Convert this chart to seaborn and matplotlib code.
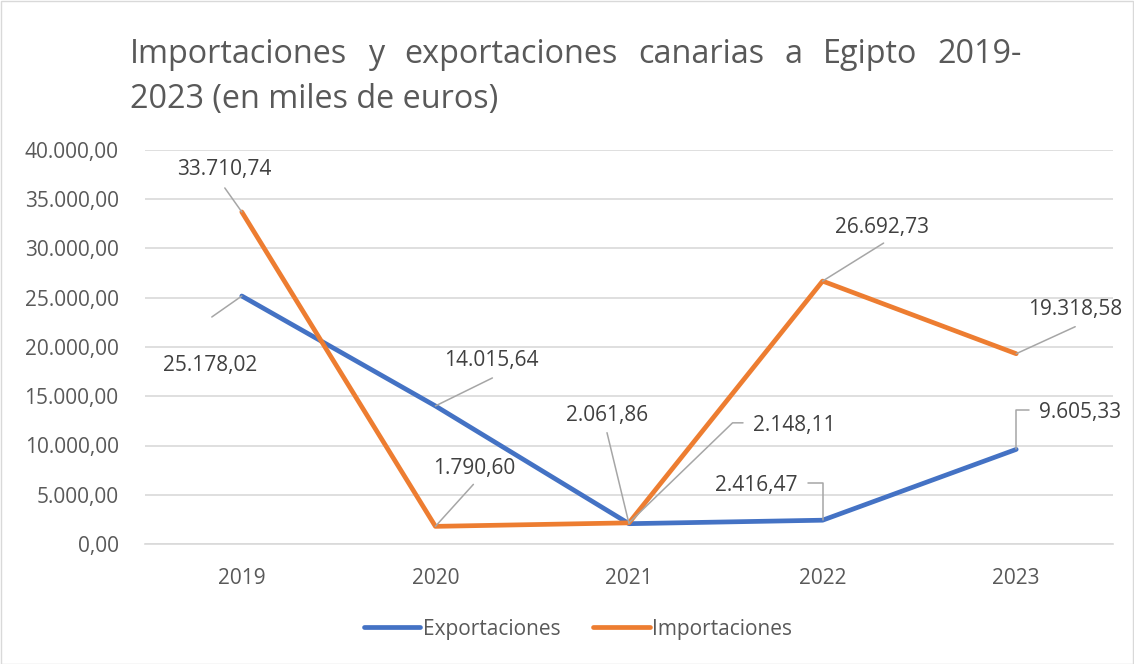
import numpy as np
import pandas as pd
import matplotlib
matplotlib.use("Agg")
import matplotlib.pyplot as plt
import seaborn as sns
from matplotlib.ticker import FuncFormatter
from matplotlib.lines import Line2D
from matplotlib.patches import Rectangle

# ---------------- data ----------------
years = ["2019", "2020", "2021", "2022", "2023"]
exportaciones = [25178.02, 14015.64, 2061.86, 2416.47, 9605.33]
importaciones = [33710.74, 1790.60, 2148.11, 26692.73, 19318.58]
series_names = ["Exportaciones", "Importaciones"]
y_ticks = [0, 5000, 10000, 15000, 20000, 25000, 30000, 35000, 40000]
title_line1 = ["Importaciones", "y", "exportaciones", "canarias", "a", "Egipto", "2019-"]
title_line2 = "2023 (en miles de euros)"

colors = {"Exportaciones": "#4472C4", "Importaciones": "#ED7D31"}


def fmt_es(v, pos=None):
    s = f"{v:,.2f}"
    return s.replace(",", "X").replace(".", ",").replace("X", ".")


df = pd.DataFrame({
    "x": list(range(len(years))) * 2,
    "value": exportaciones + importaciones,
    "serie": [series_names[0]] * len(years) + [series_names[1]] * len(years),
})

sns.set_theme(style="white")
FONT = "Open Sans"
plt.rcParams["font.family"] = [FONT, "DejaVu Sans"]

W, H = 1134, 664
fig = plt.figure(figsize=(W / 100, H / 100), dpi=100)
fig.patch.set_facecolor("white")

ax = fig.add_axes([145 / W, 1 - 544 / H, (1113 - 145) / W, (544 - 150) / H])
sns.lineplot(data=df, x="x", y="value", hue="serie", palette=colors,
             linewidth=3.4, ax=ax, legend=False, sort=False,
             solid_joinstyle="round", solid_capstyle="round")

ax.set_xlim(-0.5, len(years) - 0.5)
ax.set_ylim(0, 40000)
ax.set_yticks(y_ticks)
ax.yaxis.set_major_formatter(FuncFormatter(fmt_es))
ax.set_xticks(range(len(years)))
ax.set_xticklabels(years)
ax.set_xlabel("")
ax.set_ylabel("")
ax.yaxis.grid(True, color="#d9d9d9", linewidth=1.2)
ax.set_axisbelow(True)
for s in ["top", "right", "left"]:
    ax.spines[s].set_visible(False)
ax.spines["bottom"].set_color("#d9d9d9")
ax.spines["bottom"].set_linewidth(1.2)
ax.tick_params(axis="both", length=0, labelsize=15, labelcolor="#595959")
ax.tick_params(axis="y", pad=19)
ax.tick_params(axis="x", pad=17)

# ---------------- data labels with leader lines ----------------
# (series, index, text offset px (dx, dy), leader start offset px, connection)
labels = [
    ("Exportaciones", 0, (-32, -70), (-30, -21), None),
    ("Importaciones", 0, (-18, 42), (-17, 24), None),
    ("Exportaciones", 1, (56, 45), (57, 28), None),
    ("Importaciones", 1, (39, 58), (38, 42), None),
    ("Exportaciones", 2, (-22, 108), (-22, 91), None),
    ("Importaciones", 2, (165, 97), (114, 100), "angle,angleA=0,angleB=44,rad=0"),
    ("Exportaciones", 3, (-66, 35), (-15, 37), "angle,angleA=0,angleB=90,rad=0"),
    ("Importaciones", 3, (59, 54), (61, 38), None),
    ("Importaciones", 4, (59, 44), (59, 27), None),
    ("Exportaciones", 4, (64, 37), (13, 39), "angle,angleA=0,angleB=90,rad=0"),
]
vals = {"Exportaciones": exportaciones, "Importaciones": importaciones}
for serie, i, toff, loff, conn in labels:
    v = vals[serie][i]
    ax.annotate(fmt_es(v), xy=(i, v), xytext=toff, textcoords="offset pixels",
                ha="center", va="center", fontsize=15, color="#404040")
    ax.annotate("", xy=(i, v), xytext=loff, textcoords="offset pixels",
                arrowprops=dict(arrowstyle="-", color="#a6a6a6", lw=1.1,
                                shrinkA=0, shrinkB=0,
                                connectionstyle=conn if conn else "arc3,rad=0"))

# ---------------- title (justified first line) ----------------
renderer = fig.canvas.get_renderer()
title_color = "#595959"
# fit font size so second line spans ~370 px
fs = 24
t = fig.text(0, 0, title_line2, fontsize=fs)
w2 = t.get_window_extent(renderer).width
t.remove()
fs = fs * 370 / w2

x_left, x_right = 130, 1022
widths = []
for w in title_line1:
    tt = fig.text(0, 0, w, fontsize=fs)
    widths.append(tt.get_window_extent(renderer).width)
    tt.remove()
gap = (x_right - x_left - sum(widths)) / (len(title_line1) - 1)
x = x_left
for w, wd in zip(title_line1, widths):
    fig.text(x / W, 1 - 63 / H, w, fontsize=fs, color=title_color,
             ha="left", va="baseline")
    x += wd + gap
fig.text(x_left / W, 1 - 108 / H, title_line2, fontsize=fs, color=title_color,
         ha="left", va="baseline")

# ---------------- legend ----------------
handles = [Line2D([0], [0], color=colors[n], lw=3.4, solid_capstyle="round")
           for n in series_names]
leg = fig.legend(handles, series_names, loc="center",
                 bbox_to_anchor=(578 / W, 1 - 629 / H), ncol=2, frameon=False,
                 fontsize=15, handlelength=2.7, handletextpad=0.1,
                 columnspacing=1.6)
for txt in leg.get_texts():
    txt.set_color("#595959")

# border
fig.add_artist(Rectangle((0.5 / W, 0.5 / H), 1 - 1.5 / W, 1 - 1.5 / H,
                         transform=fig.transFigure, fill=False,
                         edgecolor="#d9d9d9", linewidth=1))

fig.savefig("out.png", dpi=100)
